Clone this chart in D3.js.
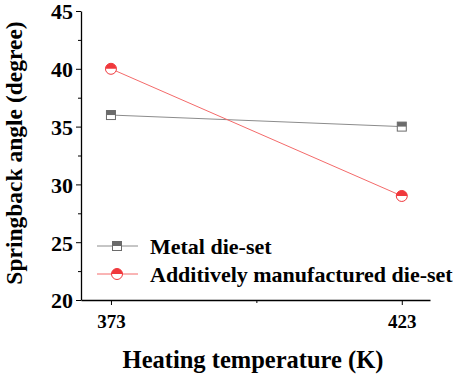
<!DOCTYPE html>
<html>
<head>
<meta charset="utf-8">
<script src="https://cdn.jsdelivr.net/npm/d3@7"></script>
<style>
  body { margin: 0; background: #fff; }
  text { font-family: "Liberation Serif", "Times New Roman", serif; font-weight: 700; fill: #000; }
</style>
</head>
<body>
<svg id="mainsvg" width="460" height="377"></svg>
<script>
const temps = [373, 423];
const metal = [36, 35];
const additive = [40, 29];
const seriesNames = ["Metal die-set", "Additively manufactured die-set"];
const yTicks = [20, 25, 30, 35, 40, 45];

const svg = d3.select("#mainsvg");
const x = d3.scaleLinear().domain([367.85, 427.85]).range([81, 430]);
const y = d3.scaleLinear().domain([20, 45]).range([300, 11]);

// axes
const yAxis = svg.append("g").attr("transform", "translate(81,0)")
  .call(d3.axisLeft(y).tickValues(yTicks).tickSize(5).tickPadding(3).tickSizeOuter(0));
svg.append("g").attr("transform", "translate(81,0)")
  .call(d3.axisLeft(y).tickValues(d3.range(22.5, 45, 5)).tickSize(3).tickFormat("").tickSizeOuter(0))
  .select(".domain").remove();
const xAxis = svg.append("g").attr("transform", "translate(0,300)")
  .call(d3.axisBottom(x).tickValues(temps).tickFormat(d3.format("d")).tickSize(5).tickPadding(10).tickSizeOuter(0));
svg.append("g").attr("transform", "translate(0,300)")
  .call(d3.axisBottom(x).tickValues([398]).tickSize(3).tickFormat("").tickSizeOuter(0))
  .select(".domain").remove();
svg.selectAll(".domain").attr("stroke", "#000").attr("stroke-width", 1.3);
svg.selectAll(".tick line").attr("stroke", "#000").attr("stroke-width", 1);
svg.selectAll(".tick text").attr("font-family", "Liberation Serif").attr("font-weight", 700).attr("fill", "#000");
yAxis.selectAll(".tick text").attr("font-size", 22).attr("dy", "0.36em");
xAxis.selectAll(".tick text").attr("font-size", 19);

// axis labels
svg.append("text").attr("transform", "translate(22,153) rotate(-90)")
  .attr("text-anchor", "middle").attr("font-size", 23.5).text("Springback angle (degree)");
svg.append("text").attr("x", 253).attr("y", 368)
  .attr("text-anchor", "middle").attr("font-size", 24.5).text("Heating temperature (K)");

const line = d3.line().x((d, i) => x(temps[i])).y(d => y(d));

function squareMarker(g, cx, cy) {
  const s = 9;
  g.append("rect").attr("x", cx - s / 2).attr("y", cy - s / 2).attr("width", s).attr("height", s)
    .attr("fill", "#fff").attr("stroke", "#6b6b6b").attr("stroke-width", 1);
  g.append("rect").attr("x", cx - s / 2).attr("y", cy - s / 2).attr("width", s).attr("height", s / 2)
    .attr("fill", "#6b6b6b");
}
function circleMarker(g, cx, cy) {
  const r = 5.5;
  g.append("circle").attr("cx", cx).attr("cy", cy).attr("r", r)
    .attr("fill", "#fff").attr("stroke", "#f0383c").attr("stroke-width", 1);
  g.append("path")
    .attr("d", `M${cx - r},${cy} A${r},${r} 0 0 1 ${cx + r},${cy} Z`)
    .attr("fill", "#f0383c");
}

svg.append("path").datum(metal).attr("d", line).attr("fill", "none").attr("stroke", "#8c8c8c").attr("stroke-width", 1);
svg.append("path").datum(additive).attr("d", line).attr("fill", "none").attr("stroke", "#f46a6a").attr("stroke-width", 1);
metal.forEach((v, i) => squareMarker(svg, x(temps[i]), y(v)));
additive.forEach((v, i) => circleMarker(svg, x(temps[i]), y(v)));

// legend
const leg = svg.append("g");
[0, 1].forEach(i => {
  const ly = 246 + i * 28;
  leg.append("line").attr("x1", 97).attr("x2", 138).attr("y1", ly).attr("y2", ly)
    .attr("stroke", i === 0 ? "#8c8c8c" : "#f46a6a").attr("stroke-width", 1);
  if (i === 0) squareMarker(leg, 117, ly); else circleMarker(leg, 117, ly);
  leg.append("text").attr("x", 150).attr("y", ly).attr("dy", "0.35em")
    .attr("font-size", 22).text(seriesNames[i]);
});
</script>
</body>
</html>
